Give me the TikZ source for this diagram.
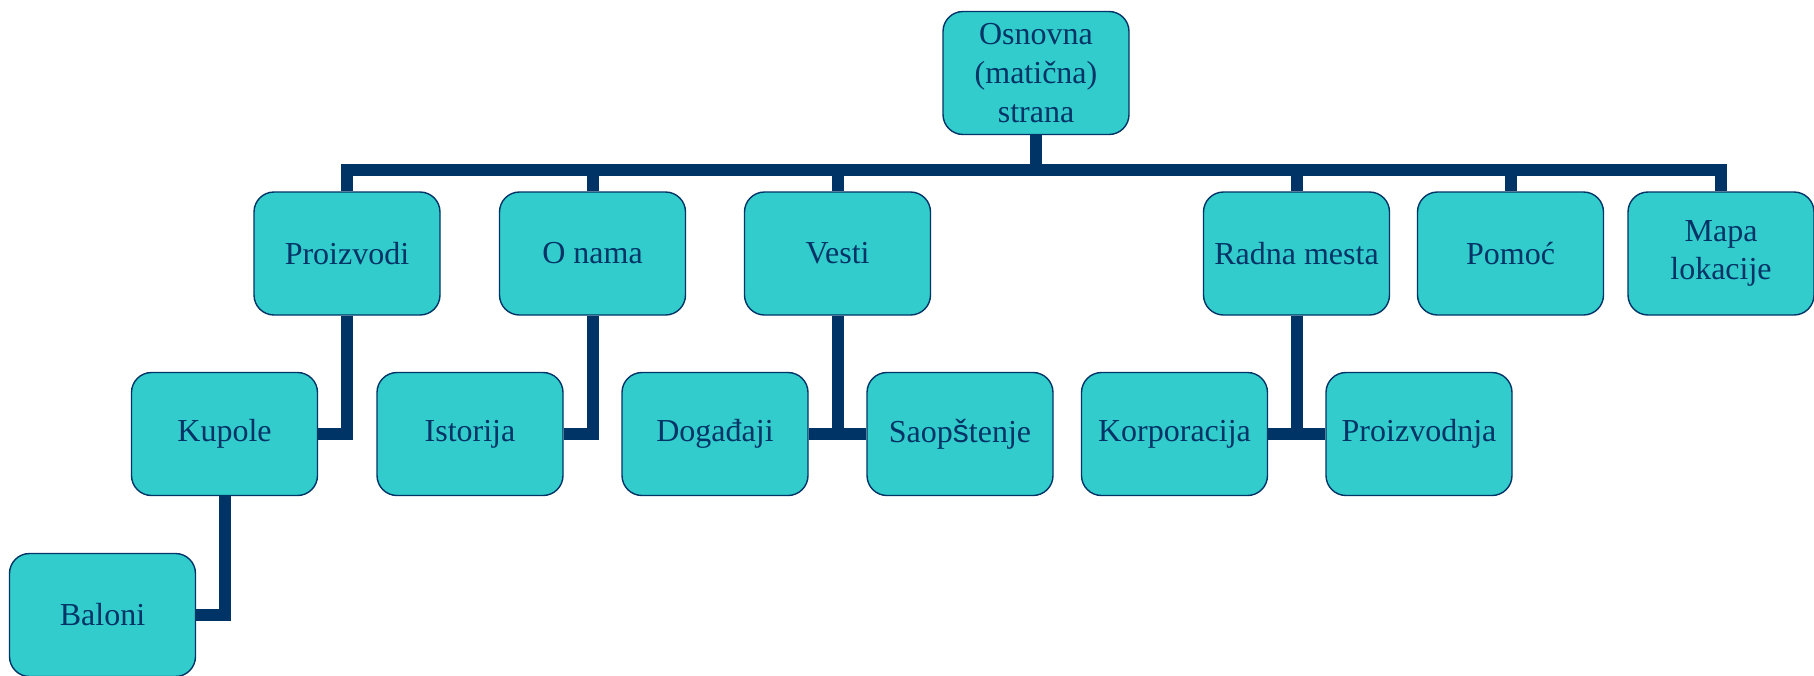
\documentclass[tikz,border=0pt]{standalone}
\usepackage{fontspec}
\setmainfont{Liberation Serif}
\newfontfamily\sansglyph{Liberation Sans}
\usetikzlibrary{backgrounds}
\definecolor{boxfill}{RGB}{51,204,204}
\definecolor{navy}{RGB}{0,51,102}
\tikzset{
  box/.style={draw=navy, line width=0.7pt, fill=boxfill, rounded corners=10pt,
    minimum width=93pt, minimum height=61.5pt, text=navy, align=center,
    inner sep=2pt, font=\fontsize{16pt}{19.4pt}\selectfont},
  conn/.style={draw=navy, line width=6pt}
}
\begin{document}
\begin{tikzpicture}[x=0.5pt,y=-0.5pt]
\useasboundingbox (0,0) rectangle (1814,675);
\node[box] (root) at (1036,73) {Osnovna\\(matična)\\strana};
\node[box] (prod) at (347,253.5) {Proizvodi};
\node[box] (onama) at (592.5,253.5) {O nama};
\node[box] (vesti) at (837.5,253.5) {Vesti};
\node[box] (radna) at (1296.5,253.5) {Radna mesta};
\node[box] (pomoc) at (1510.5,253.5) {Pomoć};
\node[box] (mapa) at (1721,253.5) {Mapa\\lokacije};
\node[box] (kup) at (224.5,434) {Kupole};
\node[box] (ist) at (470,434) {Istorija};
\node[box] (dog) at (715,434) {Događaji};
\node[box] (saop) at (960,434) {Saop{\sansglyph š}tenje};
\node[box] (korp) at (1174.5,434) {Korporacija};
\node[box] (proizv) at (1419,434) {Proizvodnja};
\node[box] (bal) at (102.5,615) {Baloni};
\coordinate (bus) at (0,170);
\begin{scope}[on background layer]
\foreach \c in {prod,onama,vesti,radna,pomoc,mapa}{
  \draw[conn] (root.south) -- (root.south |- bus) -| (\c.north);
}
\draw[conn] (prod.south) |- (kup.east);
\draw[conn] (onama.south) |- (ist.east);
\draw[conn] (vesti.south) |- (dog.east);
\draw[conn] (vesti.south) |- (saop.west);
\draw[conn] (radna.south) |- (korp.east);
\draw[conn] (radna.south) |- (proizv.west);
\draw[conn] (kup.south) |- (bal.east);
\end{scope}
\end{tikzpicture}
\end{document}
